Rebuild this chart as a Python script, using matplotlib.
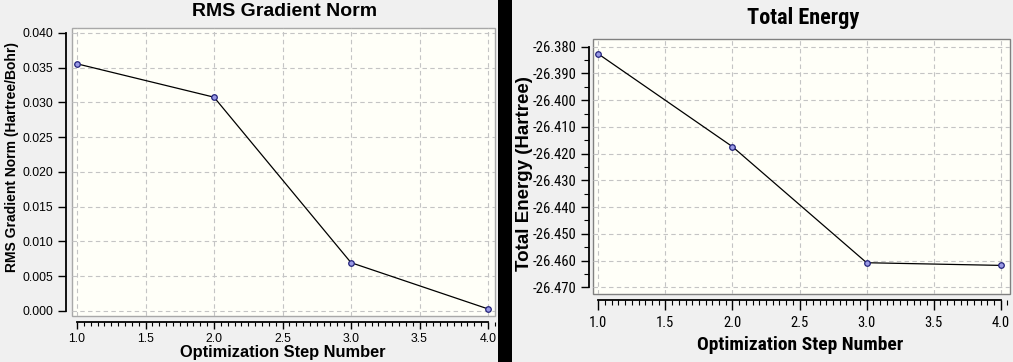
import matplotlib
matplotlib.use("Agg")
from matplotlib import pyplot as plt
from matplotlib import font_manager
from matplotlib.patches import Rectangle
from matplotlib.ticker import MultipleLocator, FormatStrFormatter

# optimization data
steps = [1.0, 2.0, 3.0, 4.0]
rms_grad = [0.03555, 0.03075, 0.00695, 0.0003]
energy = [-26.3827, -26.4174, -26.4608, -26.4618]

W, H = 1013, 362
BG = '#f0f0f0'
PLOT_BG = '#fffff8'
GRID = '#c4c4c4'
SANS = ['Liberation Sans', 'DejaVu Sans']

plt.rcParams['font.family'] = SANS


def narrow_font(bold):
    # the right-hand screenshot is squeezed, so look for a narrow face
    best = None
    for f in font_manager.fontManager.ttflist:
        is_bold = f.weight in ('bold', 700, 'heavy', 800, 'semibold', 600)
        if is_bold != bold or f.style != 'normal':
            continue
        if f.name == 'Liberation Sans Narrow':
            return f.fname
        if f.name in ('DejaVu Sans', 'Roboto Condensed', 'Open Sans Condensed') and \
                ('condensed' in str(f.stretch).lower() or f.name != 'DejaVu Sans'):
            best = f.fname
    return best


def fprops(size, bold=False, narrow=False):
    if narrow:
        path = narrow_font(bold)
        if path:
            return font_manager.FontProperties(fname=path, size=size)
        size = size * 0.85
    return font_manager.FontProperties(family=SANS, size=size,
                                       weight='bold' if bold else 'normal')


def px_rect(x0, y0, x1, y1):
    # pixel box (top-left origin) -> figure fraction
    return [x0 / W, 1 - y1 / H, (x1 - x0) / W, (y1 - y0) / H]


def style_axes(ax, edge, xout, yout, tick_fp, xlen, ylen, ypad, xpad, yminor):
    ax.set_facecolor(PLOT_BG)
    ax.patch.set_edgecolor(edge)
    ax.patch.set_linewidth(1.0)
    for s in ['top', 'right']:
        ax.spines[s].set_visible(False)
    ax.spines['left'].set_position(('outward', yout))
    ax.spines['bottom'].set_position(('outward', xout))
    ax.spines['left'].set_linewidth(1.3)
    ax.spines['bottom'].set_linewidth(1.3)
    ax.grid(True, which='major', color=GRID, linestyle=(0, (4, 3)), linewidth=0.8)
    ax.set_axisbelow(True)
    ax.tick_params(which='major', direction='out', width=1.0)
    ax.tick_params(axis='x', which='major', length=xlen[0], pad=xpad)
    ax.tick_params(axis='x', which='minor', length=xlen[1], width=0.8)
    ax.tick_params(axis='y', which='major', length=ylen[0], pad=ypad)
    ax.tick_params(axis='y', which='minor', length=ylen[1], width=0.8)
    ax.xaxis.set_major_locator(MultipleLocator(0.5))
    ax.xaxis.set_minor_locator(MultipleLocator(0.05))
    ax.xaxis.set_major_formatter(FormatStrFormatter('%.1f'))
    if yminor:
        ax.yaxis.set_minor_locator(MultipleLocator(yminor))
    ax._tick_fp = tick_fp


def apply_tick_fonts(ax):
    for lab in ax.get_xticklabels() + ax.get_yticklabels():
        lab.set_fontproperties(ax._tick_fp)


def draw_series(ax, x, y):
    ax.plot(x, y, color='black', linewidth=0.9, zorder=3)
    ax.plot(x, y, linestyle='none', marker='o', markersize=4,
            markerfacecolor='#9a9ae6', markeredgecolor='#23237a',
            markeredgewidth=0.9, zorder=4)


fig = plt.figure(figsize=(W / 100, H / 100), dpi=100)
fig.patch.set_facecolor(BG)

# black separator between the two screenshots
fig.patches.append(Rectangle((498 / W, 0), 14 / W, 1, transform=fig.transFigure,
                             facecolor='black', edgecolor='none', zorder=0))

# ---- left: RMS gradient norm
ax1 = fig.add_axes(px_rect(72, 28, 495, 316))
draw_series(ax1, steps, rms_grad)
ax1.set_xlim(0.9635, 4.051)
ax1.set_ylim(-0.00072, 0.0407)
ax1.yaxis.set_major_locator(MultipleLocator(0.005))
ax1.yaxis.set_major_formatter(FormatStrFormatter('%.3f'))
ax1.spines['left'].set_bounds(0.0, 0.040)
ax1.spines['bottom'].set_bounds(1.0, 4.0)
style_axes(ax1, '#a8a8a8', 4, 4, fprops(8.8), (5, 3), (6, 0), 3.5, 3.5, None)

fig.text(285 / W, 1 - 12 / H, 'RMS Gradient Norm', ha='center', va='center',
         fontproperties=fprops(14, bold=True))
fig.text(12 / W, 1 - 157 / H, 'RMS Gradient Norm (Hartree/Bohr)', ha='center',
         va='center', rotation=90, fontproperties=fprops(10, bold=True))
fig.text(283 / W, 1 - 353 / H, 'Optimization Step Number', ha='center',
         va='center', fontproperties=fprops(11.8, bold=True))

# ---- right: total energy
ax2 = fig.add_axes(px_rect(593, 39, 1010, 294))
draw_series(ax2, steps, energy)
ax2.set_xlim(0.960, 4.069)
ax2.set_ylim(-26.4725, -26.3771)
ax2.yaxis.set_major_locator(MultipleLocator(0.01))
ax2.yaxis.set_major_formatter(FormatStrFormatter('%.3f'))
ax2.spines['left'].set_bounds(-26.470, -26.380)
ax2.spines['bottom'].set_bounds(1.0, 4.0)
style_axes(ax2, '#808080', 4, 3, fprops(10.5, narrow=True), (7, 3.5), (6, 3.5), 3, 5, 0.005)

fig.text(803 / W, 1 - 18 / H, 'Total Energy', ha='center', va='center',
         fontproperties=fprops(16, bold=True, narrow=True))
fig.text(524 / W, 1 - 174 / H, 'Total Energy (Hartree)', ha='center',
         va='center', rotation=90, fontproperties=fprops(13.5, bold=True))
fig.text(800 / W, 1 - 345 / H, 'Optimization Step Number', ha='center',
         va='center', fontproperties=fprops(14, bold=True, narrow=True))

fig.canvas.draw()
apply_tick_fonts(ax1)
apply_tick_fonts(ax2)
fig.savefig('out.png', dpi=100, facecolor=fig.get_facecolor())
